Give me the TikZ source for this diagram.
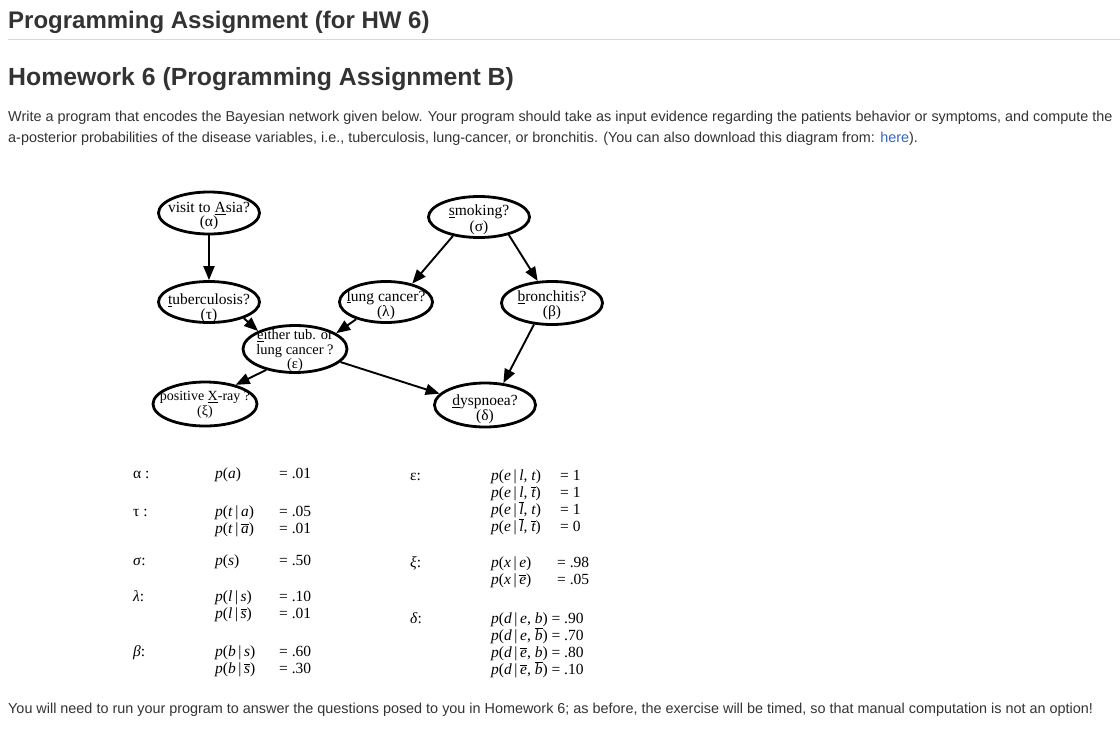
\documentclass[tikz,border=0pt]{standalone}
\usepackage{fontspec}
\setmainfont{Liberation Serif}
\setsansfont{Liberation Sans}
\usepackage{xcolor}
\usepackage{tikz}
\usetikzlibrary{positioning,shapes.geometric,arrows.meta}
\definecolor{pagetext}{HTML}{333333}
\definecolor{linkblue}{HTML}{3465BE}
\definecolor{rulegray}{HTML}{D8D8D8}
\newcommand\iv[1]{\textit{#1}}
\newcommand\nv[1]{\ensuremath{\overline{\mbox{\itshape #1}}}}
\tikzset{
	var/.style={draw, ellipse, line width=2.8pt, minimum width=101pt, minimum height=41pt, inner sep=0pt},
	vtxt/.style={align=center, inner sep=0pt, font=\fontsize{15.5}{15}\selectfont},
	edge/.style={-{Triangle[length=14pt,width=11pt]}, line width=1.9pt},
	cpt/.style={anchor=base west, inner sep=0pt, font=\fontsize{15.5}{15}\selectfont},
	web/.style={anchor=base west, inner sep=0pt, text=pagetext, font=\sffamily\fontsize{14.4}{16}\selectfont},
	head/.style={anchor=base west, inner sep=0pt, text=pagetext, font=\sffamily\bfseries\fontsize{24}{28}\selectfont},
}

\begin{document}
\begin{tikzpicture}[x=1pt, y=-1pt]
	\fill[white] (0,0) rectangle (1120,739);
	\useasboundingbox (0,0) rectangle (1120,739);
	\node[head] (title) at (8,28) {Programming Assignment (for HW 6)};
	\draw[rulegray, line width=1pt] (8,39) -- (1120,39);
	\node[head, font=\sffamily\bfseries\fontsize{24.8}{28}\selectfont] (hw) at (8,85) {Homework 6 (Programming Assignment B)};
	\node[web] (intro1) at (8,121) {Write a program that encodes the Bayesian network given below. Your program should take as input evidence regarding the patients behavior or symptoms, and compute the};
	\node[web] (intro2) at (8,142) {a-posterior probabilities of the disease variables, i.e., tuberculosis, lung-cancer, or bronchitis. (You can also download this diagram from: \textcolor{linkblue}{here}).};

	\node[var, minimum height=42pt] (asia) at (209,213) {};
	\node[var] (smoke) at (479,217) {};
	\node[var] (tub) at (209,302) {};
	\node[var, minimum width=93pt] (lung) at (386,302) {};
	\node[var, minimum height=43pt] (bronch) at (552,303) {};
	\node[var, minimum width=104pt, minimum height=47pt] (either) at (295,349) {};
	\node[var, minimum width=104pt, minimum height=44pt] (xray) at (205,404) {};
	\node[var, minimum height=44pt] (dysp) at (485,405) {};

	\node[vtxt] (asiatxt) at (209,216) {visit to \underline{A}sia?\\[-1pt](α)};
	\node[vtxt] (smoketxt) at (479,220) {\underline{s}moking?\\[1pt](σ)};
	\node[vtxt] (tubtxt) at (209,308) {\underline{t}uberculosis?\\(τ)};
	\node[vtxt] (lungtxt) at (386,305) {\underline{l}ung cancer?\\(λ)};
	\node[vtxt] (bronchtxt) at (552,305) {\underline{b}ronchitis?\\(β)};
	\node[vtxt, font=\fontsize{14.5}{14.5}\selectfont] (eithertxt) at (295,351) {\underline{e}ither tub. or\\lung cancer ?\\(ε)};
	\node[vtxt, font=\fontsize{14}{15}\selectfont] (xraytxt) at (205,405) {positive \underline{X}-ray ?\\(ξ)};
	\node[vtxt] (dysptxt) at (485,409) {\underline{d}yspnoea?\\(δ)};

	\draw[edge] (asia.south) -- (tub.north);
	\draw[edge] (smoke.216) -- (lung.35);
	\draw[edge] (smoke.329) -- (bronch.123);
	\draw[edge] (tub.335) -- (either.154);
	\draw[edge] (lung.210) -- (either.21);
	\draw[edge] (bronch.230) -- (dysp.50);
	\draw[edge] (either.216) -- (xray.32);
	\draw[edge] (either.344) -- (dysp.166);

	\node[cpt] (alpha) at (133,478) {α :};
	\node[cpt] (pa) at (215,478) {\iv{p}(\iv{a})};
	\node[cpt] (pav) at (279,478) {= .01};
	\node[cpt] (tau) at (133,516) {τ :};
	\node[cpt] (pta) at (215,516) {\iv{p}(\iv{t}\,|\,\iv{a})};
	\node[cpt] (ptav) at (279,516) {= .05};
	\node[cpt] (ptna) at (215,533) {\iv{p}(\iv{t}\,|\,\nv{a})};
	\node[cpt] (ptnav) at (279,533) {= .01};
	\node[cpt] (sigma) at (133,565) {\iv{σ}:};
	\node[cpt] (ps) at (215,565) {\iv{p}(\iv{s})};
	\node[cpt] (psv) at (279,565) {= .50};
	\node[cpt] (lambda) at (133,601) {\iv{λ}:};
	\node[cpt] (pls) at (215,601) {\iv{p}(\iv{l}\,|\,\iv{s})};
	\node[cpt] (plsv) at (279,601) {= .10};
	\node[cpt] (plns) at (215,618) {\iv{p}(\iv{l}\,|\,\nv{s})};
	\node[cpt] (plnsv) at (279,618) {= .01};
	\node[cpt] (beta) at (133,656) {\iv{β}:};
	\node[cpt] (pbs) at (215,656) {\iv{p}(\iv{b}\,|\,\iv{s})};
	\node[cpt] (pbsv) at (279,656) {= .60};
	\node[cpt] (pbns) at (215,673) {\iv{p}(\iv{b}\,|\,\nv{s})};
	\node[cpt] (pbnsv) at (279,673) {= .30};

	\node[cpt] (eps) at (410,480) {ε:};
	\node[cpt] (pelt) at (491,480) {\iv{p}(\iv{e}\,|\,\iv{l}, \iv{t})};
	\node[cpt] (peltv) at (560,480) {= 1};
	\node[cpt] (pelnt) at (491,497) {\iv{p}(\iv{e}\,|\,\iv{l}, \nv{t})};
	\node[cpt] (peltnv) at (560,497) {= 1};
	\node[cpt] (penlt) at (491,514) {\iv{p}(\iv{e}\,|\,\nv{l}, \iv{t})};
	\node[cpt] (penltv) at (560,514) {= 1};
	\node[cpt] (penlnt) at (491,531) {\iv{p}(\iv{e}\,|\,\nv{l}, \nv{t})};
	\node[cpt] (penlntv) at (560,531) {= 0};
	\node[cpt] (xi) at (410,567) {\iv{ξ}:};
	\node[cpt] (pxe) at (491,567) {\iv{p}(\iv{x}\,|\,\iv{e})};
	\node[cpt] (pxev) at (557,567) {= .98};
	\node[cpt] (pxne) at (491,584) {\iv{p}(\iv{x}\,|\,\nv{e})};
	\node[cpt] (pxnev) at (557,584) {= .05};
	\node[cpt] (delta) at (410,623) {\iv{δ}:};
	\node[cpt] (pdeb) at (491,623) {\iv{p}(\iv{d}\,|\,\iv{e}, \iv{b}) = .90};
	\node[cpt] (pdenb) at (491,640) {\iv{p}(\iv{d}\,|\,\iv{e}, \nv{b}) = .70};
	\node[cpt] (pdneb) at (491,657) {\iv{p}(\iv{d}\,|\,\nv{e}, \iv{b}) = .80};
	\node[cpt] (pdnenb) at (491,674) {\iv{p}(\iv{d}\,|\,\nv{e}, \nv{b}) = .10};

	\node[web] (outro) at (8,713) {You will need to run your program to answer the questions posed to you in Homework 6; as before, the exercise will be timed, so that manual computation is not an option!};
\end{tikzpicture}
\end{document}
